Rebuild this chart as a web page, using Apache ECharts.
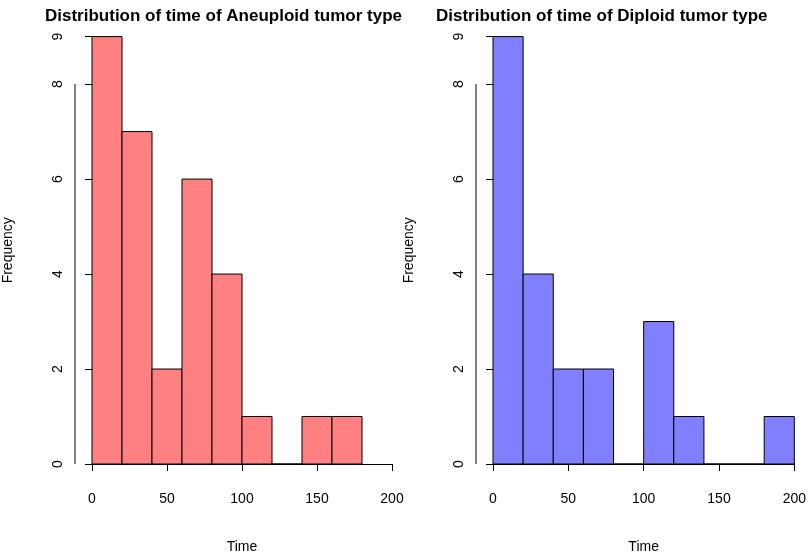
<!DOCTYPE html>
<html><head><meta charset="utf-8">
<script src="https://cdn.jsdelivr.net/npm/echarts@6/dist/echarts.min.js"></script>
<style>html,body{margin:0;background:#fff}#c{width:809px;height:559px}</style>
</head><body><div id="c"></div>
<script>
var binEdges = [0, 20, 40, 60, 80, 100, 120, 140, 160, 180, 200];
var aneuploidCounts = [9, 7, 2, 6, 4, 1, 0, 1, 1];
var diploidCounts = [9, 4, 2, 2, 0, 3, 1, 0, 0, 1];
var titles = ['Distribution of time of Aneuploid tumor type', 'Distribution of time of Diploid tumor type'];
var fills = ['#FF8080', '#8080FF'];
var font = 'Liberation Sans, Arial, sans-serif';

function bars(counts) {
  return counts.map(function (c, i) { return [binEdges[i], binEdges[i + 1], c]; });
}
function rectItem(params, api) {
  var a = api.coord([api.value(0), api.value(2)]);
  var b = api.coord([api.value(1), 0]);
  return { type: 'rect', shape: { x: a[0], y: a[1], width: b[0] - a[0], height: b[1] - a[1] },
    style: { fill: api.visual('color'), stroke: '#000', lineWidth: 1 } };
}
function yLine(params, api) {
  if (params.dataIndex > 0) return null;
  var a = api.coord([0, 0]), b = api.coord([0, 8]);
  return { type: 'line', shape: { x1: a[0] - 17, y1: a[1], x2: b[0] - 17, y2: b[1] },
    style: { stroke: '#000', lineWidth: 1 } };
}
var grids = [{ left: 89, width: 303, top: 36.6, bottom: 94 }, { left: 493, width: 303, top: 36.6, bottom: 94 }];
var xAxes = [], yAxes = [], series = [];
[aneuploidCounts, diploidCounts].forEach(function (counts, g) {
  xAxes.push({ type: 'value', gridIndex: g, min: 0, max: 200, interval: 50, offset: 18,
    name: 'Time', nameLocation: 'middle', nameGap: 58,
    nameTextStyle: { fontFamily: font, fontSize: 14, color: '#000' },
    axisLine: { show: true, lineStyle: { color: '#000' } },
    axisTick: { length: 7, lineStyle: { color: '#000' } },
    axisLabel: { fontFamily: font, fontSize: 14, color: '#000', margin: 10 },
    splitLine: { show: false } });
  yAxes.push({ type: 'value', gridIndex: g, min: 0, max: 9, interval: 2, offset: 17,
    name: 'Frequency', nameLocation: 'middle', nameGap: 60,
    nameTextStyle: { fontFamily: font, fontSize: 14, color: '#000' },
    axisLine: { show: false },
    axisTick: { show: true, length: 7, lineStyle: { color: '#000' } },
    axisLabel: { fontFamily: font, fontSize: 14, color: '#000', rotate: 90, margin: 10 },
    splitLine: { show: false } });
  series.push({ type: 'custom', xAxisIndex: g, yAxisIndex: g, renderItem: rectItem,
    itemStyle: { color: fills[g] }, data: bars(counts), clip: false });
  series.push({ type: 'custom', xAxisIndex: g, yAxisIndex: g, renderItem: yLine,
    data: [[0, 0]], clip: false, silent: true });
});
var chart = echarts.init(document.getElementById('c'));
chart.setOption({
  animation: false,
  title: [
    { text: titles[0], left: 40, top: 3, textStyle: { fontFamily: font, fontSize: 17, fontWeight: 'bold', color: '#000', width: 364, overflow: 'truncate', ellipsis: '' } },
    { text: titles[1], left: 431, top: 3, textStyle: { fontFamily: font, fontSize: 17, fontWeight: 'bold', color: '#000', width: 378, overflow: 'truncate', ellipsis: '' } }
  ],
  grid: grids, xAxis: xAxes, yAxis: yAxes, series: series
});
</script></body></html>
